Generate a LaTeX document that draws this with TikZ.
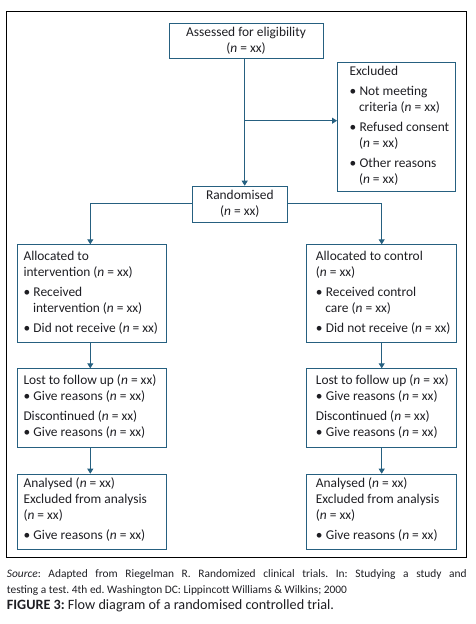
\documentclass[tikz,border=0pt]{standalone}
\usepackage{fontspec}
\setmainfont{Carlito}
\usetikzlibrary{arrows.meta}
\definecolor{boxblue}{RGB}{38,96,128}
\definecolor{txt}{RGB}{30,30,35}
\newcommand\bul{\makebox[10pt][l]{\textbullet}}
\newcommand\ind{\hspace*{9.5pt}}
\newcommand\nxx{(\textit{n} = xx)}
\frenchspacing
\begin{document}
\begin{tikzpicture}[x=1pt,y=-1pt,
  box/.style={draw=boxblue, line width=0.9pt, inner sep=0, anchor=north west},
  txtl/.style={anchor=base west, inner sep=0, align=left, text=txt, font=\fontsize{13.4}{16}\selectfont},
  txtc/.style={anchor=base, inner sep=0, align=center, text=txt, font=\fontsize{13.4}{16}\selectfont},
  arr/.style={draw=boxblue, line width=0.9pt, -{Triangle[width=6pt,length=5pt]}},
  ln/.style={draw=boxblue, line width=0.9pt}]
\useasboundingbox (0,0) rectangle (475,624);
\draw[line width=0.8pt] (6.7,11.7) rectangle (466.5,557.7);
% boxes
\node[box, minimum width=154pt, minimum height=35.6pt] (assess) at (169,22.7) {};
\node[box, minimum width=118pt, minimum height=129.6pt] (excl) at (337,61.7) {};
\node[box, minimum width=95pt, minimum height=36.6pt] (rand) at (192.3,185.7) {};
\node[box, minimum width=149pt, minimum height=97.4pt] (allocL) at (17.3,244.3) {};
\node[box, minimum width=150pt, minimum height=97.4pt] (allocR) at (305.7,244.3) {};
\node[box, minimum width=149pt, minimum height=78.4pt] (lostL) at (17.3,368.3) {};
\node[box, minimum width=150pt, minimum height=78.4pt] (lostR) at (305.7,368.3) {};
\node[box, minimum width=149pt, minimum height=75.3pt] (anaL) at (17.3,473.7) {};
\node[box, minimum width=150pt, minimum height=75.3pt] (anaR) at (305.7,473.7) {};
% texts (anchored at the baseline of the last line)
\node[txtc] (tassess) at (246,52.3) {Assessed for eligibility\\\nxx};
\node[txtl] (texcl) at (349.3,183.7) {Excluded\\[4pt]
\bul Not meeting\\ \ind criteria \nxx\\[4pt]
\bul Refused consent\\ \ind \nxx\\[4pt]
\bul Other reasons\\ \ind \nxx};
\node[txtc] (trand) at (239.8,215) {Randomised\\\nxx};
\node[txtl] (tallocL) at (23.3,332.7) {Allocated to\\ intervention \nxx\\[4pt]
\bul Received\\ \ind intervention \nxx\\[4pt]
\bul Did not receive \nxx};
\node[txtl] (tallocR) at (315.7,332.7) {Allocated to control\\ \nxx\\[4pt]
\bul Received control\\ \ind care \nxx\\[4pt]
\bul Did not receive \nxx};
\node[txtl] (tlostL) at (23.3,436.7) {Lost to follow up \nxx\\
\bul Give reasons \nxx\\[4pt]
Discontinued \nxx\\
\bul Give reasons \nxx};
\node[txtl] (tlostR) at (315.7,436.7) {Lost to follow up \nxx\\
\bul Give reasons \nxx\\[4pt]
Discontinued \nxx\\
\bul Give reasons \nxx};
\node[txtl] (tanaL) at (23.3,539.3) {Analysed \nxx\\
Excluded from analysis\\ \nxx\\[4pt]
\bul Give reasons \nxx};
\node[txtl] (tanaR) at (315.7,539.3) {Analysed \nxx\\
Excluded from analysis\\ \nxx\\[4pt]
\bul Give reasons \nxx};
% connectors
\coordinate (m) at (244.7,120.7);
\coordinate (bl) at (90.3,203.3);
\coordinate (br) at (381.7,203.3);
\draw[arr] (assess.south -| m) -- (rand.north -| m);
\draw[arr] (m) -- (excl.west |- m);
\draw[ln] (rand.west |- bl) -- (bl);
\draw[arr] (bl) -- (allocL.north -| bl);
\draw[ln] (rand.east |- br) -- (br);
\draw[arr] (br) -- (allocR.north -| br);
\draw[arr] (allocL.south -| bl) -- (lostL.north -| bl);
\draw[arr] (lostL.south -| bl) -- (anaL.north -| bl);
\draw[arr] (allocR.south -| br) -- (lostR.north -| br);
\draw[arr] (lostR.south -| br) -- (anaR.north -| br);
% caption
\node[anchor=base west, inner sep=0, align=left, text=txt,
  font=\fontsize{11.4}{16}\selectfont] (src) at (6.7,593.3)
  {\makebox[459.8pt][s]{\textit{Source}: Adapted from Riegelman R. Randomized clinical trials. In: Studying a study and}\\
   testing a test. 4th ed. Washington DC: Lippincott Williams \& Wilkins; 2000};
\node[anchor=base west, inner sep=0, text=txt, font=\fontsize{14.2}{16}\selectfont] (fig) at (6.7,609.5)
  {\textbf{FIGURE 3:} Flow diagram of a randomised controlled trial.};
\end{tikzpicture}
\end{document}
